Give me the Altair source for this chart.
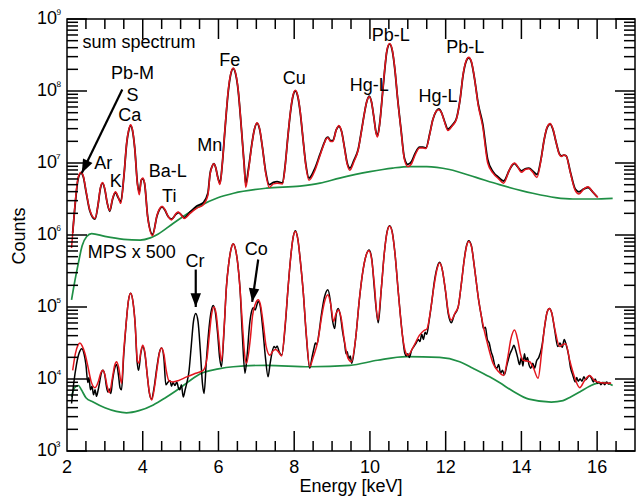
import altair as alt
import pandas as pd
import numpy as np

W, H = 568, 432
FONT = "Liberation Sans"
RED = "#e3161e"
GREEN = "#1f8f45"

# ---- data: (energy keV, log10 counts) ----
SUM_FIT = [
    (2.12, 5.82), (2.20, 6.35), (2.28, 6.76), (2.32, 6.84), (2.37, 6.87), (2.43, 6.82), (2.50, 6.62),
    (2.60, 6.35), (2.74, 6.23), (2.82, 6.42), (2.88, 6.65), (2.94, 6.73), (3.00, 6.64), (3.06, 6.45),
    (3.13, 6.34), (3.20, 6.50), (3.28, 6.60), (3.35, 6.53), (3.42, 6.44), (3.50, 6.80), (3.58, 7.30),
    (3.63, 7.46), (3.68, 7.53), (3.73, 7.46), (3.79, 7.20), (3.86, 6.70), (3.91, 6.56), (3.96, 6.76),
    (4.00, 6.79), (4.05, 6.72), (4.13, 6.25), (4.26, 5.99), (4.38, 6.28), (4.45, 6.37), (4.51, 6.40),
    (4.58, 6.36), (4.68, 6.25), (4.76, 6.21), (4.88, 6.30), (4.94, 6.32), (5.00, 6.29), (5.10, 6.23),
    (5.25, 6.30), (5.42, 6.37), (5.60, 6.42), (5.72, 6.55), (5.78, 6.85), (5.83, 6.95), (5.88, 6.99),
    (5.93, 6.93), (5.98, 6.80), (6.04, 6.70), (6.10, 6.98), (6.17, 7.46), (6.26, 8.02), (6.32, 8.23),
    (6.39, 8.32), (6.46, 8.23), (6.52, 8.02), (6.61, 7.45), (6.68, 6.95), (6.72, 6.66), (6.80, 6.92),
    (6.88, 7.25), (6.95, 7.47), (7.02, 7.56), (7.09, 7.47), (7.16, 7.22), (7.25, 6.85), (7.34, 6.66),
    (7.45, 6.71), (7.55, 6.72), (7.69, 6.71), (7.76, 6.95), (7.83, 7.35), (7.90, 7.71), (7.96, 7.92),
    (8.03, 8.01), (8.10, 7.92), (8.16, 7.71), (8.23, 7.35), (8.31, 6.95), (8.39, 6.76), (8.55, 6.90),
    (8.68, 7.10), (8.80, 7.28), (8.84, 7.33), (8.89, 7.35), (8.96, 7.30), (9.02, 7.30), (9.11, 7.46),
    (9.18, 7.52), (9.25, 7.44), (9.33, 7.20), (9.40, 6.98), (9.47, 6.90), (9.58, 7.02), (9.69, 7.18),
    (9.78, 7.45), (9.85, 7.68), (9.92, 7.86), (9.98, 7.92), (10.04, 7.85), (10.10, 7.65), (10.16, 7.42),
    (10.20, 7.36), (10.26, 7.55), (10.33, 7.95), (10.39, 8.30), (10.45, 8.57), (10.52, 8.66),
    (10.59, 8.57), (10.66, 8.30), (10.73, 7.90), (10.82, 7.46), (10.91, 7.05), (11.00, 6.95),
    (11.10, 6.99), (11.20, 7.12), (11.31, 7.21), (11.40, 7.21), (11.48, 7.20), (11.58, 7.40),
    (11.66, 7.60), (11.75, 7.72), (11.82, 7.74), (11.89, 7.70), (11.97, 7.57), (12.06, 7.45),
    (12.18, 7.52), (12.28, 7.60), (12.38, 7.88), (12.46, 8.23), (12.54, 8.42), (12.61, 8.47),
    (12.68, 8.41), (12.76, 8.18), (12.86, 7.80), (12.98, 7.50), (13.11, 7.00), (13.25, 6.86),
    (13.40, 6.78), (13.53, 6.72), (13.68, 6.90), (13.76, 6.98), (13.82, 7.00), (13.88, 6.97),
    (14.00, 6.87), (14.10, 6.91), (14.20, 6.92), (14.30, 6.87), (14.41, 6.80), (14.52, 7.05),
    (14.60, 7.32), (14.68, 7.50), (14.76, 7.55), (14.83, 7.48), (14.92, 7.28), (15.00, 7.12),
    (15.06, 7.09), (15.12, 7.11), (15.18, 7.10), (15.30, 6.85), (15.42, 6.62), (15.52, 6.57),
    (15.65, 6.64), (15.76, 6.67), (15.88, 6.60), (16.02, 6.52),
]

SUM_DATA = [
    (2.15, 6.03), (2.22, 6.45), (2.29, 6.77), (2.33, 6.84), (2.37, 6.86), (2.43, 6.81), (2.50, 6.61),
    (2.60, 6.34), (2.74, 6.22), (2.82, 6.42), (2.88, 6.64), (2.94, 6.72), (3.00, 6.63), (3.06, 6.45),
    (3.13, 6.33), (3.20, 6.49), (3.28, 6.59), (3.35, 6.52), (3.42, 6.46), (3.50, 6.80), (3.58, 7.29),
    (3.63, 7.45), (3.68, 7.52), (3.73, 7.45), (3.79, 7.20), (3.86, 6.72), (3.91, 6.60), (3.96, 6.76),
    (4.00, 6.78), (4.05, 6.71), (4.13, 6.26), (4.26, 6.01), (4.38, 6.27), (4.45, 6.36), (4.51, 6.39),
    (4.58, 6.35), (4.68, 6.25), (4.76, 6.22), (4.88, 6.29), (4.94, 6.31), (5.00, 6.29), (5.10, 6.24),
    (5.25, 6.32), (5.42, 6.40), (5.60, 6.45), (5.72, 6.58), (5.78, 6.86), (5.83, 6.95), (5.88, 6.99),
    (5.93, 6.93), (5.98, 6.81), (6.04, 6.72), (6.10, 6.98), (6.17, 7.45), (6.26, 8.00), (6.32, 8.22),
    (6.39, 8.31), (6.46, 8.22), (6.52, 8.01), (6.61, 7.45), (6.68, 6.97), (6.72, 6.71), (6.80, 6.95),
    (6.88, 7.26), (6.95, 7.47), (7.02, 7.55), (7.09, 7.46), (7.16, 7.22), (7.25, 6.87), (7.34, 6.70),
    (7.45, 6.73), (7.55, 6.74), (7.69, 6.72), (7.76, 6.96), (7.83, 7.35), (7.90, 7.70), (7.96, 7.91),
    (8.03, 8.00), (8.10, 7.91), (8.16, 7.70), (8.23, 7.35), (8.31, 6.97), (8.39, 6.79), (8.55, 6.93),
    (8.68, 7.12), (8.80, 7.29), (8.84, 7.34), (8.89, 7.36), (8.96, 7.31), (9.02, 7.31), (9.11, 7.46),
    (9.18, 7.51), (9.25, 7.44), (9.33, 7.21), (9.40, 7.00), (9.47, 6.93), (9.58, 7.04), (9.69, 7.19),
    (9.78, 7.46), (9.85, 7.68), (9.92, 7.86), (9.98, 7.93), (10.04, 7.85), (10.10, 7.65), (10.16, 7.43),
    (10.20, 7.38), (10.26, 7.56), (10.33, 7.95), (10.39, 8.29), (10.45, 8.56), (10.52, 8.65),
    (10.59, 8.56), (10.66, 8.29), (10.73, 7.90), (10.82, 7.47), (10.91, 7.07), (11.00, 6.98),
    (11.10, 7.02), (11.20, 7.14), (11.31, 7.22), (11.40, 7.22), (11.48, 7.21), (11.58, 7.41),
    (11.66, 7.60), (11.75, 7.72), (11.82, 7.75), (11.89, 7.70), (11.97, 7.58), (12.06, 7.47),
    (12.18, 7.53), (12.28, 7.61), (12.38, 7.88), (12.46, 8.22), (12.54, 8.41), (12.61, 8.46),
    (12.68, 8.40), (12.76, 8.18), (12.86, 7.82), (12.98, 7.54), (13.11, 7.05), (13.25, 6.88),
    (13.40, 6.80), (13.53, 6.75), (13.68, 6.90), (13.76, 6.97), (13.82, 6.99), (13.88, 6.96),
    (14.00, 6.89), (14.10, 6.92), (14.20, 6.93), (14.30, 6.89), (14.41, 6.84), (14.52, 7.06),
    (14.60, 7.32), (14.68, 7.49), (14.76, 7.54), (14.83, 7.47), (14.92, 7.28), (15.00, 7.13),
    (15.06, 7.10), (15.12, 7.11), (15.18, 7.10), (15.30, 6.86), (15.42, 6.64), (15.52, 6.60),
    (15.65, 6.64), (15.76, 6.66), (15.88, 6.60), (16.00, 6.53),
]

SUM_BG = [
    (2.12, 5.10), (2.21, 5.37), (2.30, 5.61), (2.40, 5.85), (2.52, 5.98), (2.65, 6.02), (3.00, 5.98),
    (3.50, 5.94), (3.93, 5.93), (4.20, 5.96), (4.40, 6.01), (4.80, 6.16), (5.50, 6.40), (6.00, 6.52),
    (6.40, 6.58), (7.27, 6.65), (8.15, 6.68), (8.68, 6.72), (9.20, 6.79), (10.00, 6.88), (10.60, 6.93),
    (11.05, 6.95), (11.50, 6.95), (12.10, 6.91), (12.80, 6.80), (13.42, 6.70), (14.30, 6.58),
    (14.90, 6.52), (15.36, 6.50), (15.90, 6.50), (16.41, 6.51),
]

MPS_FIT = [
    (2.15, 4.12), (2.22, 4.35), (2.29, 4.47), (2.34, 4.50), (2.40, 4.46), (2.47, 4.36), (2.55, 4.18),
    (2.64, 3.96), (2.74, 3.88), (2.83, 3.97), (2.89, 4.08), (2.94, 4.12), (3.00, 4.06), (3.06, 3.90),
    (3.12, 3.81), (3.20, 4.02), (3.26, 4.19), (3.31, 4.24), (3.36, 4.17), (3.44, 3.94), (3.50, 4.40),
    (3.56, 4.76), (3.62, 5.08), (3.68, 5.19), (3.74, 5.08), (3.80, 4.76), (3.86, 4.25), (3.90, 4.22),
    (3.95, 4.38), (4.00, 4.47), (4.06, 4.36), (4.12, 4.05), (4.18, 3.80), (4.24, 3.71), (4.32, 3.92),
    (4.38, 4.15), (4.44, 4.36), (4.50, 4.43), (4.56, 4.34), (4.62, 4.12), (4.70, 3.97), (4.80, 3.96),
    (4.95, 3.98), (5.16, 4.03), (5.40, 4.08), (5.60, 4.12), (5.70, 4.30), (5.76, 4.62), (5.82, 4.90),
    (5.88, 5.00), (5.94, 4.90), (6.00, 4.60), (6.08, 4.25), (6.15, 4.72), (6.21, 5.28), (6.27, 5.60),
    (6.33, 5.80), (6.39, 5.88), (6.45, 5.80), (6.51, 5.60), (6.57, 5.25), (6.64, 4.70), (6.70, 4.30),
    (6.74, 4.22), (6.84, 4.55), (6.90, 4.88), (6.98, 5.05), (7.05, 5.10), (7.11, 5.03), (7.18, 4.78),
    (7.26, 4.45), (7.36, 4.33), (7.44, 4.39), (7.51, 4.41), (7.58, 4.38), (7.67, 4.32), (7.76, 4.75),
    (7.84, 5.28), (7.90, 5.65), (7.96, 5.93), (8.03, 6.05), (8.10, 5.93), (8.16, 5.65), (8.24, 5.20),
    (8.32, 4.62), (8.41, 4.17), (8.50, 4.30), (8.63, 4.54), (8.72, 4.85), (8.80, 5.07), (8.89, 5.17),
    (8.96, 5.05), (9.04, 4.80), (9.10, 4.90), (9.17, 4.96), (9.24, 4.85), (9.32, 4.55), (9.42, 4.29),
    (9.51, 4.24), (9.62, 4.55), (9.72, 5.10), (9.80, 5.45), (9.90, 5.72), (9.97, 5.78), (10.04, 5.68),
    (10.11, 5.35), (10.21, 4.82), (10.30, 5.25), (10.38, 5.75), (10.45, 6.03), (10.52, 6.12),
    (10.59, 6.03), (10.66, 5.75), (10.75, 5.20), (10.86, 4.60), (10.95, 4.36), (11.00, 4.33),
    (11.15, 4.45), (11.31, 4.61), (11.42, 4.67), (11.51, 4.70), (11.60, 4.95), (11.68, 5.25),
    (11.77, 5.52), (11.84, 5.61), (11.91, 5.52), (11.99, 5.25), (12.07, 4.93), (12.15, 4.82),
    (12.25, 4.92), (12.33, 5.00), (12.42, 5.35), (12.49, 5.65), (12.55, 5.84), (12.61, 5.91),
    (12.68, 5.84), (12.76, 5.55), (12.87, 5.10), (12.98, 4.77), (13.10, 4.50), (13.25, 4.22),
    (13.40, 4.10), (13.53, 4.05), (13.64, 4.30), (13.72, 4.55), (13.82, 4.68), (13.90, 4.55),
    (13.98, 4.34), (14.04, 4.26), (14.14, 4.25), (14.22, 4.24), (14.32, 4.15), (14.44, 4.01),
    (14.54, 4.40), (14.62, 4.76), (14.68, 4.93), (14.74, 4.98), (14.80, 4.92), (14.88, 4.70),
    (15.01, 4.45), (15.10, 4.48), (15.17, 4.49), (15.28, 4.25), (15.40, 4.03), (15.54, 3.88),
    (15.67, 3.98), (15.80, 4.05), (15.93, 3.98), (16.06, 3.95), (16.37, 3.94),
]

MPS_DATA = [
    (2.12, 3.66), (2.18, 3.95), (2.25, 4.20), (2.32, 4.36), (2.39, 4.42), (2.45, 4.35), (2.50, 4.20),
    (2.55, 3.95), (2.58, 4.02), (2.62, 3.85), (2.66, 3.90), (2.70, 3.78), (2.74, 3.85), (2.78, 3.76),
    (2.82, 3.84), (2.86, 3.95), (2.90, 4.07), (2.95, 4.12), (3.00, 4.05), (3.04, 3.90), (3.08, 3.82),
    (3.12, 3.86), (3.16, 3.80), (3.20, 3.97), (3.26, 4.15), (3.31, 4.20), (3.36, 4.05), (3.40, 3.88),
    (3.44, 3.85), (3.50, 4.35), (3.56, 4.76), (3.62, 5.08), (3.68, 5.19), (3.74, 5.08), (3.80, 4.76),
    (3.85, 4.25), (3.89, 4.12), (3.95, 4.36), (4.00, 4.45), (4.06, 4.34), (4.12, 4.05), (4.17, 3.82),
    (4.23, 3.72), (4.30, 3.88), (4.37, 4.15), (4.44, 4.37), (4.50, 4.43), (4.56, 4.28), (4.61, 3.92),
    (4.66, 3.95), (4.72, 3.98), (4.76, 3.90), (4.80, 3.95), (4.85, 3.91), (4.90, 3.96), (4.94, 3.88),
    (4.98, 3.85), (5.02, 3.92), (5.07, 3.75), (5.12, 3.85), (5.17, 3.96), (5.22, 4.10), (5.28, 4.45),
    (5.34, 4.80), (5.40, 4.91), (5.46, 4.80), (5.52, 4.40), (5.58, 3.92), (5.62, 3.80), (5.68, 4.25),
    (5.74, 4.65), (5.80, 4.92), (5.86, 5.02), (5.92, 4.92), (5.98, 4.62), (6.03, 4.30), (6.08, 4.17),
    (6.15, 4.70), (6.21, 5.28), (6.27, 5.60), (6.33, 5.80), (6.39, 5.88), (6.45, 5.80), (6.51, 5.60),
    (6.57, 5.25), (6.63, 4.62), (6.70, 4.08), (6.76, 4.35), (6.82, 4.75), (6.88, 4.95), (6.92, 4.99),
    (6.97, 4.96), (7.01, 5.02), (7.05, 5.08), (7.10, 5.02), (7.17, 4.70), (7.24, 4.30), (7.31, 4.03),
    (7.36, 4.20), (7.42, 4.38), (7.47, 4.45), (7.51, 4.43), (7.55, 4.46), (7.60, 4.38), (7.67, 4.33),
    (7.76, 4.72), (7.84, 5.28), (7.90, 5.65), (7.96, 5.93), (8.03, 6.06), (8.10, 5.93), (8.16, 5.65),
    (8.24, 5.20), (8.32, 4.60), (8.41, 4.15), (8.47, 4.30), (8.52, 4.42), (8.56, 4.50), (8.60, 4.48),
    (8.65, 4.62), (8.72, 4.90), (8.80, 5.14), (8.89, 5.24), (8.95, 5.10), (9.01, 4.82), (9.07, 4.70),
    (9.11, 4.90), (9.16, 4.98), (9.22, 4.88), (9.28, 4.65), (9.33, 4.50), (9.37, 4.35), (9.40, 4.38),
    (9.44, 4.28), (9.48, 4.32), (9.52, 4.22), (9.62, 4.55), (9.72, 5.10), (9.80, 5.45), (9.90, 5.72),
    (9.98, 5.79), (10.05, 5.66), (10.11, 5.30), (10.16, 5.00), (10.22, 4.78), (10.30, 5.25),
    (10.38, 5.75), (10.45, 6.04), (10.52, 6.13), (10.59, 6.04), (10.66, 5.75), (10.75, 5.20),
    (10.86, 4.60), (10.92, 4.36), (10.96, 4.32), (11.00, 4.35), (11.04, 4.30), (11.10, 4.40),
    (11.16, 4.45), (11.22, 4.50), (11.28, 4.55), (11.32, 4.52), (11.37, 4.62), (11.41, 4.55),
    (11.46, 4.65), (11.50, 4.62), (11.56, 4.80), (11.64, 5.10), (11.70, 5.35), (11.77, 5.54),
    (11.84, 5.62), (11.91, 5.52), (11.99, 5.24), (12.07, 4.90), (12.15, 4.78), (12.22, 4.88),
    (12.33, 5.00), (12.42, 5.35), (12.49, 5.66), (12.55, 5.85), (12.61, 5.92), (12.68, 5.85),
    (12.76, 5.55), (12.87, 5.10), (12.95, 4.85), (13.00, 4.70), (13.05, 4.72), (13.10, 4.55),
    (13.15, 4.50), (13.20, 4.38), (13.25, 4.30), (13.30, 4.18), (13.35, 4.15), (13.40, 4.20),
    (13.45, 4.08), (13.50, 4.12), (13.55, 4.06), (13.62, 4.20), (13.70, 4.35), (13.76, 4.42),
    (13.80, 4.47), (13.85, 4.40), (13.90, 4.30), (13.95, 4.20), (14.00, 4.30), (14.04, 4.18),
    (14.08, 4.35), (14.12, 4.25), (14.16, 4.30), (14.20, 4.20), (14.25, 4.15), (14.30, 4.22),
    (14.35, 4.15), (14.40, 4.25), (14.46, 4.30), (14.54, 4.45), (14.62, 4.75), (14.68, 4.93),
    (14.74, 4.98), (14.80, 4.92), (14.88, 4.68), (14.96, 4.45), (15.02, 4.50), (15.08, 4.44),
    (15.13, 4.55), (15.18, 4.48), (15.24, 4.35), (15.30, 4.15), (15.36, 4.05), (15.42, 3.96),
    (15.46, 4.02), (15.50, 3.97), (15.55, 4.00), (15.60, 3.97), (15.65, 4.03), (15.70, 3.99),
    (15.75, 4.02), (15.80, 4.05), (15.86, 4.00), (15.90, 3.96), (15.95, 4.00), (16.00, 3.94),
    (16.05, 3.96), (16.10, 3.92), (16.15, 3.95), (16.20, 3.92), (16.25, 3.96), (16.30, 3.93),
    (16.35, 3.95),
]

MPS_BG = [
    (2.12, 3.75), (2.20, 3.88), (2.30, 3.91), (2.38, 3.85), (2.50, 3.74), (2.69, 3.68), (3.00, 3.60),
    (3.30, 3.55), (3.57, 3.53), (3.90, 3.56), (4.28, 3.64), (4.60, 3.74), (4.89, 3.84), (5.20, 3.96),
    (5.51, 4.07), (6.00, 4.14), (6.39, 4.17), (7.27, 4.19), (8.41, 4.17), (9.47, 4.19), (10.20, 4.26),
    (10.96, 4.31), (11.84, 4.30), (12.37, 4.24), (12.72, 4.15), (13.16, 4.03), (13.42, 3.95),
    (13.78, 3.83), (14.20, 3.72), (14.79, 3.68), (15.10, 3.70), (15.30, 3.75), (15.54, 3.82),
    (15.80, 3.90), (15.98, 3.94), (16.20, 3.95), (16.41, 3.91),
]

# annotations: text, energy, log10 counts
LABEL_TEXT = ["sum spectrum", "Pb-M", "S", "Ca", "Ar", "K", "Ba-L", "Ti", "Mn", "Fe", "Cu",
              "Hg-L", "Pb-L", "Hg-L", "Pb-L", "MPS x 500", "Cr", "Co"]
LABEL_E = [3.90, 3.73, 3.73, 3.66, 2.96, 3.29, 4.66, 4.70, 5.77, 6.30, 8.00,
           9.98, 10.55, 11.80, 12.52, 3.71, 5.38, 7.00]
LABEL_LG = [8.66, 8.23, 7.925, 7.655, 6.98, 6.73, 6.87, 6.53, 7.23, 8.41, 8.16,
            8.075, 8.77, 7.92, 8.60, 5.75, 5.63, 5.79]

# arrows: start (E, log) -> tip (E, log), head angle
ARROW_E1 = [3.46, 5.40, 7.05]
ARROW_LG1 = [8.02, 5.52, 5.66]
ARROW_E2 = [2.39, 5.40, 6.89]
ARROW_LG2 = [6.86, 5.00, 5.07]
ARROW_ANG = [206, 180, 188]

X_LABELS = [2, 4, 6, 8, 10, 12, 14, 16]
X_MAJOR = [4, 6, 8, 10, 12, 14, 16]
X_MINOR = [2.5, 3, 3.5, 4.5, 5, 5.5, 6.5, 7, 7.5, 8.5, 9, 9.5, 10.5, 11, 11.5,
           12.5, 13, 13.5, 14.5, 15, 15.5, 16.5]
Y_EXP = [3, 4, 5, 6, 7, 8, 9]
Y_SUP = ["³", "⁴", "⁵", "⁶", "⁷", "⁸", "⁹"]
Y_MINOR_MULT = [2, 3, 4, 5, 6, 7, 8, 9]


def curve(pairs):
    e, lg = zip(*pairs)
    return pd.DataFrame({"E": list(e), "C": np.power(10.0, np.array(lg))})


xs = alt.Scale(domain=[2, 17], nice=False, zero=False)
ys = alt.Scale(type="log", domain=[1e3, 1e9], nice=False)
X = lambda f="E": alt.X(f"{f}:Q", scale=xs, axis=None)
Y = lambda f="C": alt.Y(f"{f}:Q", scale=ys, axis=None)


def line(pairs, color, width=1.6):
    return alt.Chart(curve(pairs)).mark_line(
        color=color, strokeWidth=width, interpolate="monotone"
    ).encode(x=X(), y=Y())


layers = [
    line(SUM_BG, GREEN, 1.7),
    line(MPS_BG, GREEN, 1.7),
    line(SUM_DATA, "black", 1.8),
    line(SUM_FIT, RED, 1.5),
    line(MPS_DATA, "black", 1.5),
    line(MPS_FIT, RED, 1.5),
]

# ticks (inward)
xmaj = pd.DataFrame({"E": X_MAJOR})
xmin = pd.DataFrame({"E": X_MINOR})
ymaj = pd.DataFrame({"C": [10.0 ** k for k in Y_EXP]})
ymin = pd.DataFrame({"C": [m * 10.0 ** k for k in Y_EXP[:-1] for m in Y_MINOR_MULT]})
tick = dict(color="black", strokeWidth=1.5)
for df, ln in [(xmaj, 20), (xmin, 10)]:
    layers.append(alt.Chart(df).mark_rule(**tick).encode(x=X(), y=alt.value(H), y2=alt.value(H - ln)))
    layers.append(alt.Chart(df).mark_rule(**tick).encode(x=X(), y=alt.value(0), y2=alt.value(ln)))
for df, ln in [(ymaj, 20), (ymin, 11)]:
    layers.append(alt.Chart(df).mark_rule(**tick).encode(y=Y(), x=alt.value(0), x2=alt.value(ln)))
    layers.append(alt.Chart(df).mark_rule(**tick).encode(y=Y(), x=alt.value(W), x2=alt.value(W - ln)))

# tick labels
layers.append(alt.Chart(pd.DataFrame({"E": X_LABELS, "t": [str(v) for v in X_LABELS]})).mark_text(
    font=FONT, fontSize=18, align="center", baseline="top", color="black"
).encode(x=X(), y=alt.value(H + 8), text="t:N"))
ylab = pd.DataFrame({"C": [10.0 ** k for k in Y_EXP], "sup": Y_SUP})
layers.append(alt.Chart(ylab).mark_text(
    font=FONT, fontSize=18, align="right", baseline="middle", color="black"
).encode(y=Y(), x=alt.value(-10), text=alt.value("10")))
layers.append(alt.Chart(ylab).mark_text(
    font=FONT, fontSize=13, align="left", baseline="middle", color="black", dy=-5, dx=-1
).encode(y=Y(), x=alt.value(-10), text="sup:N"))

# axis titles
layers.append(alt.Chart(pd.DataFrame({"t": ["Energy [keV]"]})).mark_text(
    font=FONT, fontSize=18, align="center", baseline="alphabetic", color="black"
).encode(x=alt.value(W / 2), y=alt.value(473), text="t:N"))
layers.append(alt.Chart(pd.DataFrame({"t": ["Counts"]})).mark_text(
    font=FONT, fontSize=18, align="center", baseline="alphabetic", color="black", angle=270
).encode(x=alt.value(-42), y=alt.value(217), text="t:N"))

# annotations
lab = pd.DataFrame({"t": LABEL_TEXT, "E": LABEL_E, "C": np.power(10.0, np.array(LABEL_LG))})
layers.append(alt.Chart(lab).mark_text(
    font=FONT, fontSize=18, align="center", baseline="middle", color="black"
).encode(x=X(), y=Y(), text="t:N"))

arr = pd.DataFrame({
    "E1": ARROW_E1, "C1": np.power(10.0, np.array(ARROW_LG1)),
    "E2": ARROW_E2, "C2": np.power(10.0, np.array(ARROW_LG2)), "ang": ARROW_ANG,
})
layers.append(alt.Chart(arr).mark_rule(color="black", strokeWidth=2.2).encode(
    x=X("E1"), y=Y("C1"), x2="E2:Q", y2="C2:Q"))
layers.append(alt.Chart(arr).mark_point(
    shape="M0,0 L-1,2.6 L1,2.6 Z", filled=True, color="black", opacity=1, size=110
).encode(x=X("E2"), y=Y("C2"), angle=alt.Angle("ang:Q", scale=None)))

chart = alt.layer(*layers).properties(
    width=W, height=H,
    autosize=alt.AutoSizeParams(type="none"),
    padding={"left": 67, "top": 19, "right": 1, "bottom": 45},
).configure_view(stroke="black", strokeWidth=1.5)

chart.save("out.html", embed_options={"renderer": "svg", "actions": False})
